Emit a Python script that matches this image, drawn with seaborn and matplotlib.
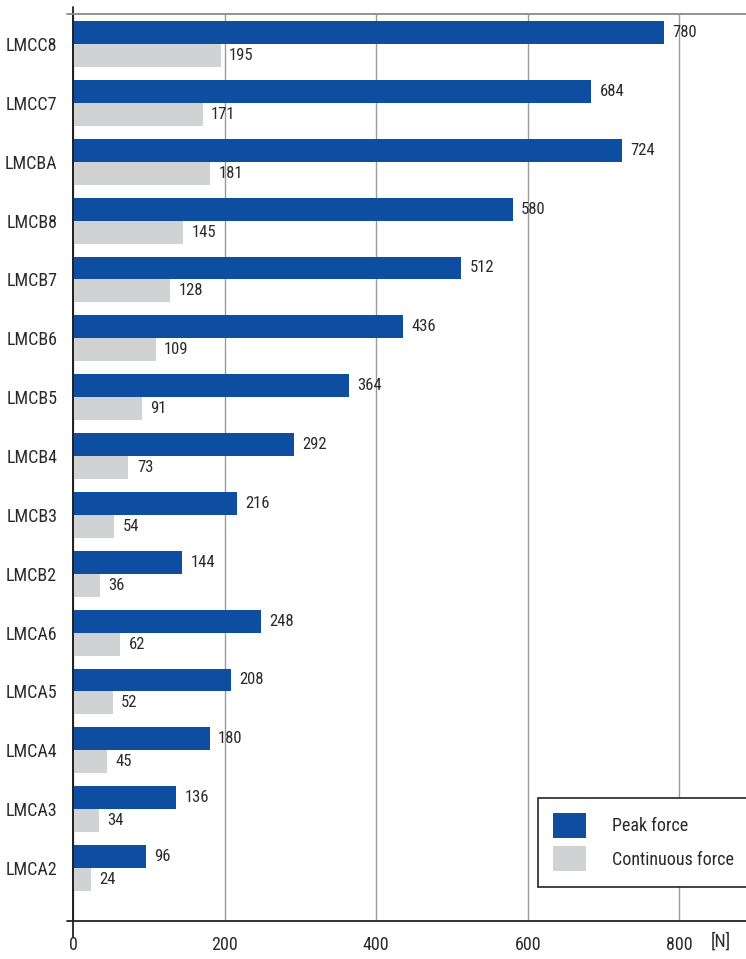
import pandas as pd
import seaborn as sns
import matplotlib.pyplot as plt
import matplotlib.transforms as mtransforms

# data
models = ['LMCC8', 'LMCC7', 'LMCBA', 'LMCB8', 'LMCB7', 'LMCB6', 'LMCB5', 'LMCB4',
          'LMCB3', 'LMCB2', 'LMCA6', 'LMCA5', 'LMCA4', 'LMCA3', 'LMCA2']
peak_force = [780, 684, 724, 580, 512, 436, 364, 292, 216, 144, 248, 208, 180, 136, 96]
continuous_force = [195, 171, 181, 145, 128, 109, 91, 73, 54, 36, 62, 52, 45, 34, 24]
series = ['Peak force', 'Continuous force']
colors = ['#0d4ea0', '#d1d2d4']

df = pd.DataFrame({
    'model': models * 2,
    'force': peak_force + continuous_force,
    'type': [series[0]] * len(models) + [series[1]] * len(models),
})

sns.set_style('white')
plt.rcParams['font.family'] = ['Roboto Condensed', 'DejaVu Sans']
plt.rcParams['font.stretch'] = 'condensed'
plt.rcParams['text.color'] = '#2a2a2a'

fig = plt.figure(figsize=(7.46, 9.59), dpi=100)
ax = fig.add_axes([0.098, 0.0396, 0.902, 0.9458])

sns.barplot(data=df, y='model', x='force', hue='type', order=models,
            hue_order=series, palette=colors, orient='h', width=0.78,
            saturation=1, linewidth=0, ax=ax)

for cont in ax.containers:
    ax.bar_label(cont, padding=6, fontsize=12, color='#2a2a2a')

ax.set_xlim(0, 888)
ax.set_ylim(14.9, -0.51)
ax.set_xticks([0, 200, 400, 600, 800])
ax.xaxis.grid(True, color='#9a9a9a', linewidth=1)
ax.yaxis.grid(False)
ax.set_axisbelow(True)
ax.set_xlabel('')
ax.set_ylabel('')
ax.tick_params(axis='x', length=0, pad=11, labelsize=13, labelcolor='#2a2a2a')
ax.tick_params(axis='y', length=0, pad=11.5, labelsize=13, labelcolor='#2a2a2a')

for side in ['left', 'bottom']:
    ax.spines[side].set_color('#222222')
    ax.spines[side].set_linewidth(1.3)
ax.spines['top'].set_color('#8a8a8a')
ax.spines['top'].set_linewidth(1.3)
ax.spines['right'].set_visible(False)

# small overhangs of the axis lines, as in the reference
trans = ax.transAxes
ax.plot([0, 0], [-0.018, 1.008], transform=trans, color='#222222', lw=1.3, clip_on=False)
ax.plot([-0.009, 0], [0, 0], transform=trans, color='#222222', lw=1.3, clip_on=False)
ax.plot([-0.009, 0], [1, 1], transform=trans, color='#8a8a8a', lw=1.3, clip_on=False)

blend = mtransforms.blended_transform_factory(ax.transData, ax.transAxes)
ax.text(855, -0.0125, '[N]', transform=blend, ha='center', va='top', fontsize=13)

leg = ax.legend(loc='lower right', bbox_to_anchor=(1.005, 0.038), frameon=True,
                fancybox=False, edgecolor='#222222', fontsize=13,
                handlelength=1.8, handleheight=1.75, handletextpad=1.45,
                borderpad=0.85, labelspacing=0.45, borderaxespad=0)
leg.get_frame().set_linewidth(1.2)
leg.get_frame().set_alpha(1)

plt.savefig('out.png', dpi=100)
